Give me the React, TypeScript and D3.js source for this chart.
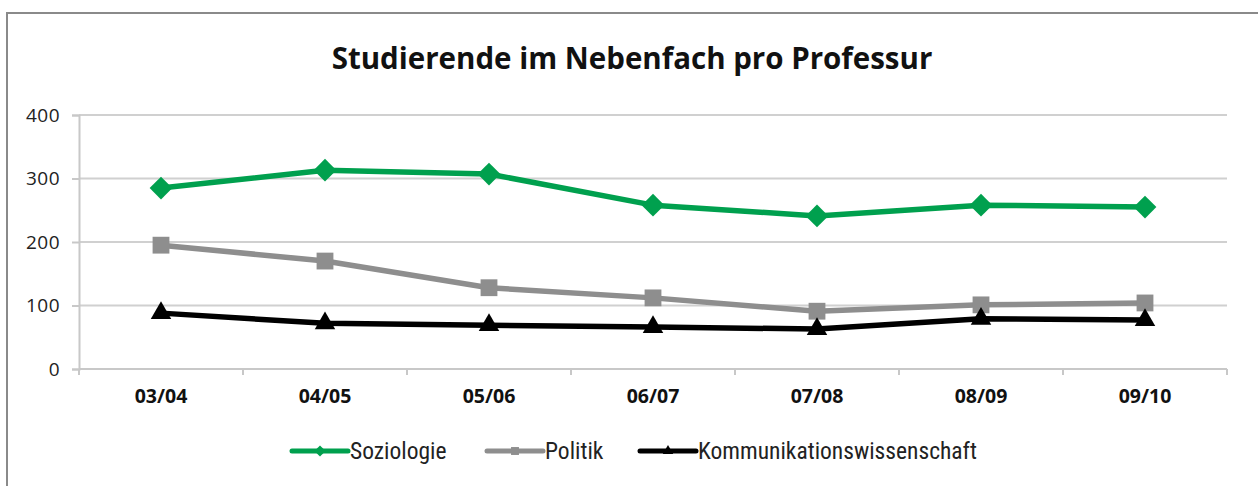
import React, { useRef, useEffect } from "react";
import * as d3 from "d3";

const categories = ["03/04", "04/05", "05/06", "06/07", "07/08", "08/09", "09/10"];
const soziologie = [285, 313, 307, 258, 241, 258, 255];
const politik = [195, 170, 128, 112, 91, 101, 104];
const kommunikation = [88, 72, 69, 66, 63, 79, 77];
const yTicks = [0, 100, 200, 300, 400];

const series = [
  { name: "Soziologie", values: soziologie, color: "#00A04E", symbol: d3.symbolDiamond2, size: 330 },
  { name: "Politik", values: politik, color: "#8E8E8E", symbol: d3.symbolSquare2, size: 360 },
  { name: "Kommunikationswissenschaft", values: kommunikation, color: "#000000", symbol: d3.symbolTriangle2, size: 300 },
];

const FONT = "'Open Sans', 'Noto Sans', sans-serif";

const App = () => {
  const ref = useRef<SVGSVGElement>(null);

  useEffect(() => {
    if (!ref.current) return;
    const svg = d3.select(ref.current);
    svg.selectAll("*").remove();

    // frame
    svg.append("path")
      .attr("d", "M7,490 L7,13 L1260,13")
      .attr("fill", "none")
      .attr("stroke", "#8a8a8a")
      .attr("stroke-width", 2);

    svg.append("text")
      .attr("x", 632)
      .attr("y", 69)
      .attr("text-anchor", "middle")
      .attr("font-family", FONT)
      .attr("font-weight", "bold")
      .attr("font-size", 29.5)
      .attr("fill", "#111")
      .text("Studierende im Nebenfach pro Professur");

    const x = d3.scaleBand().domain(categories).range([79, 1227]);
    const y = d3.scaleLinear().domain([0, 400]).range([369, 115]);

    // grid
    svg.append("g").selectAll("line").data(yTicks.filter((d) => d > 0)).enter().append("line")
      .attr("x1", 79).attr("x2", 1227)
      .attr("y1", (d) => y(d)).attr("y2", (d) => y(d))
      .attr("stroke", "#d0d0d0").attr("stroke-width", 2);

    // y axis
    const ya = svg.append("g").attr("transform", "translate(79,0)")
      .call(d3.axisLeft(y).tickValues(yTicks).tickSize(7).tickPadding(12));
    ya.select(".domain").attr("stroke", "#c8c8c8").attr("stroke-width", 2);
    ya.selectAll(".tick line").attr("stroke", "#c8c8c8").attr("stroke-width", 2);
    ya.selectAll(".tick text").attr("font-family", FONT).attr("font-size", 19)
      .attr("letter-spacing", 0.5).attr("fill", "#222");

    // x axis
    const xa = svg.append("g").attr("transform", "translate(0,369)");
    xa.append("line").attr("x1", 79).attr("x2", 1227).attr("stroke", "#c8c8c8").attr("stroke-width", 2);
    const bounds = categories.map((c) => x(c)!).concat([1227]);
    xa.selectAll(".tk").data(bounds).enter().append("line")
      .attr("x1", (d) => d).attr("x2", (d) => d).attr("y1", 0).attr("y2", 6)
      .attr("stroke", "#c8c8c8").attr("stroke-width", 2);
    xa.selectAll(".lb").data(categories).enter().append("text")
      .attr("x", (d) => x(d)! + x.bandwidth() / 2)
      .attr("y", 34)
      .attr("text-anchor", "middle")
      .attr("font-family", FONT)
      .attr("font-weight", "bold")
      .attr("font-size", 19.5)
      .attr("fill", "#111")
      .text((d) => d);

    const cx = (i: number) => x(categories[i])! + x.bandwidth() / 2;
    const line = d3.line<number>().x((_, i) => cx(i)).y((d) => y(d));

    series.forEach((s) => {
      const g = svg.append("g");
      g.append("path").datum(s.values).attr("d", line)
        .attr("fill", "none").attr("stroke", s.color).attr("stroke-width", 5.5)
        .attr("stroke-linejoin", "round");
      g.selectAll("path.m").data(s.values).enter().append("path")
        .attr("class", "m")
        .attr("d", d3.symbol().type(s.symbol).size(s.size)() as string)
        .attr("transform", (d, i) => `translate(${cx(i)},${y(d)})`)
        .attr("fill", s.color);
    });

    // legend
    const legendPos = [292, 487, 640];
    series.forEach((s, i) => {
      const g = svg.append("g").attr("transform", `translate(${legendPos[i]},451)`);
      g.append("line").attr("x1", 0).attr("x2", 56).attr("stroke", s.color).attr("stroke-width", 5)
        .attr("stroke-linecap", "round");
      g.append("path").attr("d", d3.symbol().type(s.symbol).size(80)() as string)
        .attr("transform", "translate(28,0)").attr("fill", s.color);
      g.append("text").attr("x", 58).attr("y", 8)
        .attr("font-family", "'Liberation Sans Narrow', 'Roboto Condensed', 'Open Sans', sans-serif")
        .attr("font-size", 23.5).attr("fill", "#222")
        .text(s.name);
    });
  }, []);

  return (
    <div style={{ position: "absolute", left: 0, top: 0 }}>
      <svg ref={ref} width={1258} height={486} style={{ display: "block", background: "#fff" }} />
    </div>
  );
};

export default App;
